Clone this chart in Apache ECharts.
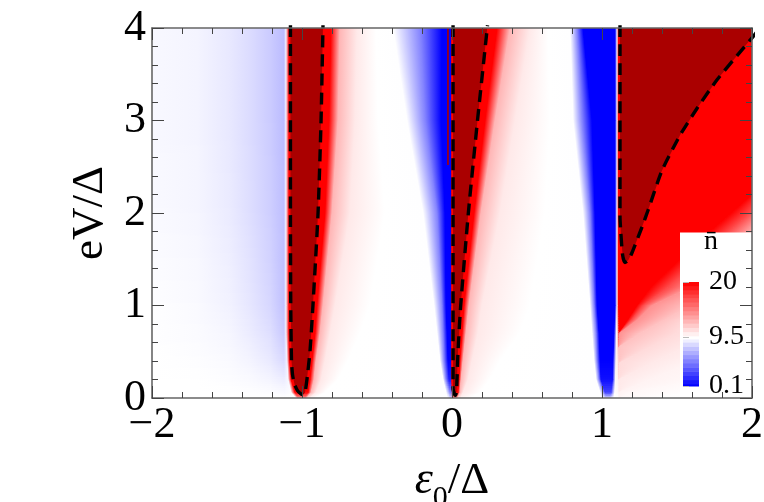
<!DOCTYPE html>
<html><head><meta charset="utf-8">
<style>html,body{margin:0;padding:0;background:#fff}#c{width:764px;height:502px}</style>
<script src="https://cdn.jsdelivr.net/npm/echarts@6/dist/echarts.min.js"></script>
</head><body><div id="c"></div>
<script>
// ---- tick labels
const xTicks = [-2,-1,0,1,2];
const yTicks = [0,1,2,3,4];
const barTicks = [0.1,9.5,20];
// ---- dashed contours (eps0, eV)
const wedgeA = [[-1.077,4.03],[-1.077,2],[-1.075,1],[-1.07,0.4],[-1.063,0.25],[-1.05,0.15],[-1.03,0.08],[-1.007,0.045],[-0.993,0.035],[-0.98,0.06],[-0.967,0.2],[-0.947,0.5],[-0.927,1],[-0.893,2],[-0.873,3],[-0.86,4.03]];
const wedgeB = [[0.007,4.03],[0.007,2],[0.007,0.5],[0.007,0.1],[0.017,0.04],[0.023,0.03],[0.03,0.07],[0.04,0.5],[0.058,1],[0.109,2],[0.17,3],[0.237,4.03]];
const wedgeC = [[1.12,4.03],[1.12,2.5],[1.12,1.96],[1.125,1.8],[1.137,1.55],[1.153,1.465],[1.175,1.49],[1.2,1.57],[1.267,1.85],[1.307,2.03],[1.4,2.46],[1.52,2.84],[1.633,3.13],[1.767,3.44],[1.92,3.74],[2.033,3.96],[2.05,4.03]];
const thinLine = [[-0.027,4],[-0.027,2.52]];
// ---- left/middle field: one row per eV level
const leftRowsY = [0,0.06,0.2,0.4,0.7,1,2,3,4];
const leftX = [
 [-2,-1.7,-1.48,-1.35,-1.21,-1.12,-1.04,-1.027,-0.98,-0.967,-0.947,-0.913,-0.033,-0.02,-0.013,-0.005,0,0.027,0.04,0.06,0.12,0.993,1.013,1.027,1.053,1.08,1.11],
 [-2,-1.7,-1.48,-1.35,-1.21,-1.12,-1.073,-1.047,-0.96,-0.94,-0.907,-0.847,-0.04,-0.027,-0.013,-0.005,0,0.04,0.053,0.073,0.187,0.987,1.007,1.02,1.06,1.085,1.11],
 [-2,-1.7,-1.48,-1.35,-1.21,-1.12,-1.093,-1.073,-0.947,-0.92,-0.873,-0.76,-0.06,-0.04,-0.02,-0.005,-0.003,0.047,0.06,0.107,0.253,0.96,0.98,0.993,1.07,1.09,1.11],
 [-2,-1.7,-1.48,-1.35,-1.21,-1.12,-1.1,-1.083,-0.933,-0.907,-0.847,-0.693,-0.08,-0.053,-0.027,-0.005,-0.003,0.053,0.073,0.133,0.32,0.947,0.967,0.987,1.073,1.093,1.11],
 [-2,-1.7,-1.48,-1.35,-1.21,-1.12,-1.107,-1.087,-0.913,-0.88,-0.813,-0.613,-0.1,-0.06,-0.033,-0.005,-0.003,0.067,0.093,0.173,0.453,0.933,0.96,0.98,1.08,1.097,1.11],
 [-2,-1.7,-1.48,-1.35,-1.21,-1.12,-1.107,-1.087,-0.9,-0.86,-0.78,-0.547,-0.12,-0.067,-0.04,-0.005,-0.003,0.08,0.113,0.2,0.52,0.92,0.947,0.967,1.087,1.1,1.11],
 [-2,-1.7,-1.48,-1.35,-1.21,-1.12,-1.107,-1.087,-0.847,-0.8,-0.68,-0.447,-0.193,-0.1,-0.047,-0.005,-0.003,0.147,0.193,0.32,0.62,0.873,0.92,0.953,1.087,1.1,1.11],
 [-2,-1.7,-1.48,-1.35,-1.21,-1.12,-1.107,-1.087,-0.82,-0.76,-0.647,-0.493,-0.3,-0.18,-0.073,-0.005,-0.003,0.22,0.287,0.42,0.653,0.807,0.867,0.933,1.087,1.1,1.11],
 [-2,-1.7,-1.48,-1.35,-1.21,-1.12,-1.107,-1.087,-0.807,-0.747,-0.633,-0.507,-0.393,-0.213,-0.067,-0.005,-0.003,0.3,0.387,0.52,0.64,0.787,0.833,0.873,1.087,1.1,1.11]
];
const leftV = [
 [9.5,9.5,9.5,9.5,9.5,9.5,9.5,14,14,11,10,9.5,9.5,9,8,8,14,14,11,10,9.5,9.5,9,8,8,9.5,9.5],
 [9.5,9.5,9.48,9.45,9.4,9.3,9.4,20,20,12.5,10.4,9.5,9.45,7.5,5,5,20,20,12.5,10.4,9.5,9.45,6,2.5,2.5,9.6,9.8],
 [9.5,9.48,9.4,9.3,9.1,8.8,9.2,20,20,12.5,10.4,9.5,9.45,5,1,1,20,20,12.5,10.4,9.5,9.45,5,0.6,0.6,9.7,10.1],
 [9.5,9.42,9.3,9.1,8.7,8.1,9,20,20,12.5,10.4,9.5,9.45,5,0.1,0.1,20,20,12.5,10.4,9.5,9.45,5,0.1,0.1,9.8,10.8],
 [9.47,9.35,9.15,8.8,8.3,7.5,9,20,20,12.5,10.4,9.5,9.45,5,0.1,0.1,20,20,12.5,10.4,9.5,9.45,5,0.1,0.1,9.8,13.5],
 [9.45,9.3,9,8.6,8,7.2,9,20,20,12.5,10.4,9.5,9.45,5,0.1,0.1,20,20,12.5,10.4,9.5,9.45,5,0.1,0.1,9.8,20],
 [9.3,9.15,8.75,8.3,7.7,7.1,9,20,20,12.5,10.4,9.5,9.45,5,0.1,0.1,20,20,12.5,10.4,9.5,9.45,5,0.1,0.1,9.8,20],
 [9.24,9.1,8.65,8.2,7.6,7,9,20,20,12.5,10.4,9.5,9.45,5,0.1,0.1,20,20,12.5,10.4,9.5,9.45,5,0.1,0.1,9.8,20],
 [9.24,9.1,8.65,8.2,7.6,7,9,20,20,12.5,10.4,9.5,9.45,5,0.1,0.1,20,20,12.5,10.4,9.5,9.45,5,0.1,0.1,9.8,20]
];
// ---- right field: where each level of n sits along each eV row
const rightRowsY = [0,0.06,0.2,0.38,0.55,0.7,0.85,1,1.2,1.5,1.8,2,2.2,4];
const rightLevels = [20,20,17,14,12,11,10.4,10,9.8,9.6,9.5];
const rightX = [
 [1.11,1.11,1.11,1.11,1.11,1.11,1.11,1.11,1.11,1.3,2.1],
 [1.11,1.11,1.11,1.11,1.11,1.11,1.11,1.11,1.2,1.6,2.1],
 [1.11,1.11,1.11,1.11,1.11,1.11,1.11,1.32,1.653,2,2.1],
 [1.11,1.11,1.11,1.11,1.11,1.115,1.333,1.587,1.92,2.09,2.1],
 [1.11,1.11,1.11,1.11,1.11,1.32,1.553,1.853,2.05,2.09,2.1],
 [1.11,1.11,1.11,1.115,1.253,1.493,1.72,1.987,2.08,2.09,2.1],
 [1.11,1.173,1.2,1.24,1.42,1.587,1.787,2,2.08,2.09,2.1],
 [1.11,1.233,1.273,1.333,1.587,1.82,2.05,2.07,2.08,2.09,2.1],
 [1.11,1.327,1.44,1.587,1.787,2,2.06,2.07,2.08,2.09,2.1],
 [1.11,1.52,1.653,1.82,2.053,2.055,2.06,2.07,2.08,2.09,2.1],
 [1.11,1.72,1.84,1.953,2.05,2.055,2.06,2.07,2.08,2.09,2.1],
 [1.11,1.86,1.987,2.08,2.082,2.084,2.086,2.088,2.09,2.095,2.1],
 [1.11,2,2.08,2.082,2.084,2.086,2.088,2.09,2.092,2.095,2.1],
 [1.11,2.08,2.082,2.084,2.086,2.088,2.09,2.092,2.094,2.096,2.1]
];
// ---- legend bands (low to high) and the box behind it
const barBands = [0.1,0.9,1.7,2.5,3.3,4.1,4.9,5.7,6.5,7.3,8.1,8.9,9.5,10.1,10.9,11.7,12.5,13.3,14.1,14.9,15.7,16.5,17.3,18.1,18.9,19.7];
const barStep = 0.8;
const legendBox = [[1.52,0,2.05,1.79]];

function nColor(v){
  let r,g,b;
  if(v<=9.5){const t=Math.max(0,(9.5-v)/9.4);r=g=Math.round(255*(1-t));b=255;}
  else{const t=Math.min(1,(v-9.5)/10.5);r=255;g=b=Math.round(255*(1-t));}
  return 'rgb('+r+','+g+','+b+')';
}
function buildQuads(rowsY,xs,vAt){
  const out=[];
  for(let r=0;r<rowsY.length-1;r++){
    for(let c=0;c<xs[r].length-1;c++){
      out.push([xs[r][c],rowsY[r],xs[r][c+1],rowsY[r],xs[r+1][c+1],rowsY[r+1],xs[r+1][c],rowsY[r+1],
        vAt(r,c),vAt(r,c+1),vAt(r+1,c+1),vAt(r+1,c)]);
    }
  }
  return out;
}
const leftQuads = buildQuads(leftRowsY,leftX,(r,c)=>leftV[r][c]);
const rightQuads = buildQuads(rightRowsY,rightX,(r,c)=>rightLevels[c]);
const mix=(p,q,t)=>[p[0]+(q[0]-p[0])*t,p[1]+(q[1]-p[1])*t];

// one table cell: painted with the library's gradient fill, row-wise in thin strips
function renderQuad(p,api){
  const a=api.coord([api.value(0),api.value(1)]),b=api.coord([api.value(2),api.value(3)]),
        c=api.coord([api.value(4),api.value(5)]),d=api.coord([api.value(6),api.value(7)]);
  if(Math.abs(b[0]-a[0])+Math.abs(c[0]-d[0])<0.02) return null;
  const vA=api.value(8),vB=api.value(9),vC=api.value(10),vD=api.value(11);
  const h=Math.abs(a[1]-d[1]);
  const n=Math.max(1,Math.ceil(h/2.5));
  const children=[];
  for(let i=0;i<n;i++){
    const t0=i/n,t1=(i+1)/n,tm=(t0+t1)/2,te=t1+1.2/h;
    const A=mix(a,d,t0),B=mix(b,c,t0),C=mix(b,c,t1),D=mix(a,d,t1);
    if(Math.abs(B[0]-A[0])+Math.abs(C[0]-D[0])<0.02) continue;
    const L=[(A[0]+D[0])/2,(A[1]+D[1])/2],R=[(B[0]+C[0])/2,(B[1]+C[1])/2];
    let sx=(D[0]-A[0]+C[0]-B[0])/2,sy=(D[1]-A[1]+C[1]-B[1])/2;
    const sl=Math.hypot(sx,sy)||1;sx/=sl;sy/=sl;
    const nx=-sy,ny=sx,pr=(R[0]-L[0])*nx+(R[1]-L[1])*ny;
    const fill={type:'linear',global:true,x:L[0],y:L[1],x2:L[0]+nx*pr,y2:L[1]+ny*pr+0.0001,
      colorStops:[{offset:0,color:nColor(vA+(vD-vA)*tm)},{offset:1,color:nColor(vB+(vC-vB)*tm)}]};
    const Ce=mix(b,c,te),De=mix(a,d,te);
    children.push({type:'polygon',shape:{points:[A,[B[0]+1,B[1]],[Ce[0]+1,Ce[1]],De]},style:{fill:fill}});
  }
  return {type:'group',children:children};
}
const dims=['a','b','c','d','e','f','g','h','va','vb','vc','vd'];
function meshSeries(data){return {type:'custom',xAxisIndex:0,yAxisIndex:0,z:1,clip:true,silent:true,data:data,dimensions:dims,
  encode:{x:[0,2,4,6],y:[1,3,5,7]},renderItem:renderQuad};}
function darkSeries(pts){return {type:'custom',xAxisIndex:0,yAxisIndex:0,z:2,clip:true,silent:true,data:pts,encode:{x:0,y:1},
  renderItem:(p,api)=>p.dataIndex===0?{type:'polygon',shape:{points:pts.map(q=>api.coord(q))},style:{fill:'#aa0000'}}:null};}
function dashSeries(pts){return {type:'line',xAxisIndex:0,yAxisIndex:0,z:3,clip:false,silent:true,symbol:'none',smooth:0.2,data:pts,
  lineStyle:{color:'#000',width:3.4,type:[12,7]}};}
const SERIF='"Liberation Serif","Times New Roman",serif';
const frameLine={show:true,onZero:false,lineStyle:{color:'#666',width:1.6}};
const tick={show:true,inside:true,length:12,lineStyle:{color:'#444',width:1}};
const minor={show:true,splitNumber:5,length:6,lineStyle:{color:'#444',width:1}};
const minusFmt=v=>String(v).replace('-','\u2212');

const option={
  animation:false,backgroundColor:'#fff',
  grid:[{left:152,top:28,width:600,height:370,outerBoundsMode:'none'},{left:683,top:282,width:16,height:104,outerBoundsMode:'none'}],
  xAxis:[
    {type:'value',min:-2,max:2,interval:1,position:'bottom',z:5,axisLine:frameLine,axisTick:tick,minorTick:minor,splitLine:{show:false},minorSplitLine:{show:false},
     axisLabel:{fontFamily:SERIF,fontSize:44,color:'#000',margin:5,formatter:minusFmt,hideOverlap:false,showMinLabel:true,showMaxLabel:true,customValues:xTicks},
     name:'{e|\u03b5}{s|0}{n|/\u0394}',nameLocation:'middle',nameGap:51,
     nameTextStyle:{rich:{e:{fontFamily:SERIF,fontStyle:'italic',fontSize:46,color:'#000',lineHeight:64,verticalAlign:'middle'},
       s:{fontFamily:SERIF,fontSize:30,color:'#000',lineHeight:64,verticalAlign:'bottom'},
       n:{fontFamily:SERIF,fontSize:45,color:'#000',lineHeight:64,verticalAlign:'middle'}}}},
    {type:'value',min:-2,max:2,interval:1,position:'top',z:5,axisLine:frameLine,axisTick:tick,minorTick:minor,splitLine:{show:false},axisLabel:{show:false}},
    {type:'value',gridIndex:1,min:0,max:1,show:false}
  ],
  yAxis:[
    {type:'value',min:0,max:4,interval:1,position:'left',z:5,axisLine:frameLine,axisTick:tick,minorTick:minor,splitLine:{show:false},
     axisLabel:{fontFamily:SERIF,fontSize:44,color:'#000',margin:6,padding:[0,0,6,0],hideOverlap:false,showMinLabel:true,showMaxLabel:true,customValues:yTicks},
     name:'eV/\u0394',nameLocation:'middle',nameGap:36,nameRotate:90,nameTextStyle:{fontFamily:SERIF,fontSize:45,color:'#000'}},
    {type:'value',min:0,max:4,interval:1,position:'right',z:5,axisLine:frameLine,axisTick:tick,minorTick:minor,splitLine:{show:false},axisLabel:{show:false}},
    {type:'value',gridIndex:1,min:0.1,max:20,position:'right',z:6,axisLine:{show:false},
     axisTick:{show:true,length:6,customValues:barTicks,lineStyle:{color:'#bbb',width:1}},splitLine:{show:false},
     axisLabel:{fontFamily:SERIF,fontSize:28,color:'#000',margin:10,padding:[0,0,3,0],customValues:barTicks,hideOverlap:false,showMinLabel:true,showMaxLabel:true}}
  ],
  series:[
    meshSeries(leftQuads),meshSeries(rightQuads),
    darkSeries(wedgeA),darkSeries(wedgeB),darkSeries(wedgeC),
    {type:'line',xAxisIndex:0,yAxisIndex:0,z:2,silent:true,symbol:'none',data:thinLine,lineStyle:{color:'#aa0000',width:1.6}},
    dashSeries(wedgeA),dashSeries(wedgeB),dashSeries(wedgeC),
    {type:'custom',xAxisIndex:0,yAxisIndex:0,z:4,clip:true,silent:true,data:legendBox,encode:{x:[0,2],y:[1,3]},
     renderItem:(p,api)=>{const a=api.coord([api.value(0),api.value(3)]),b=api.coord([api.value(2),api.value(1)]);
       return {type:'rect',shape:{x:a[0],y:a[1],width:b[0]-a[0],height:b[1]-a[1]},style:{fill:'#fff'}};}},
    {type:'custom',xAxisIndex:2,yAxisIndex:2,z:5,silent:true,data:barBands.map(v=>[v]),encode:{y:0},
     renderItem:(p,api)=>{const v=api.value(0),lo=Math.max(0.1,v-barStep/2),hi=Math.min(20,v+barStep/2);
       const a=api.coord([0,hi]),b=api.coord([1,lo]);
       return {type:'rect',shape:{x:a[0],y:a[1],width:b[0]-a[0],height:b[1]-a[1]+0.5},style:{fill:nColor(v)}};}}
  ],
  graphic:[{type:'text',x:704,y:228,z:100,style:{text:'n\u0304',fontFamily:SERIF,fontSize:28,fill:'#000'}}]
};
echarts.init(document.getElementById('c'),null,{renderer:'canvas'}).setOption(option);
</script>
</body></html>
